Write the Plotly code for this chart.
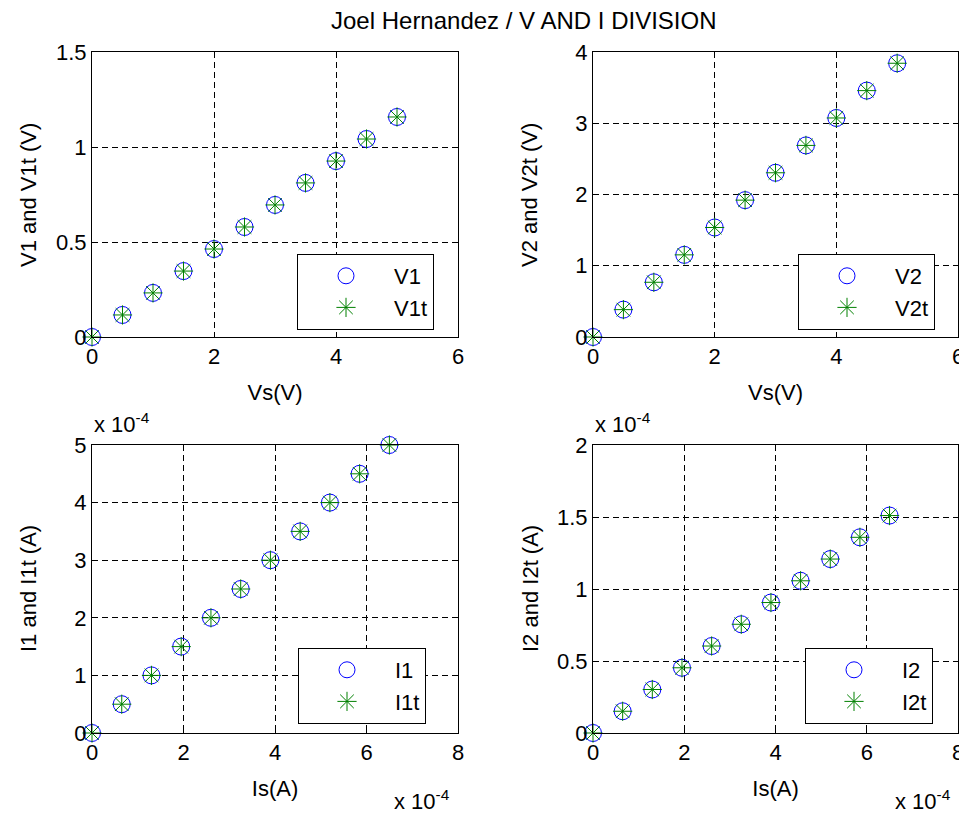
import plotly.graph_objects as go

# data
vs = [0, 0.5, 1, 1.5, 2, 2.5, 3, 3.5, 4, 4.5, 5]
v1 = [0, 0.116, 0.232, 0.347, 0.463, 0.579, 0.695, 0.811, 0.926, 1.042, 1.158]
v1t = [0, 0.116, 0.232, 0.347, 0.463, 0.579, 0.695, 0.811, 0.926, 1.042, 1.158]
v2 = [0, 0.384, 0.768, 1.153, 1.537, 1.921, 2.305, 2.689, 3.074, 3.458, 3.842]
v2t = [0, 0.384, 0.768, 1.153, 1.537, 1.921, 2.305, 2.689, 3.074, 3.458, 3.842]

# currents in units of 1e-4 A
is_e4 = [0, 0.65, 1.3, 1.95, 2.6, 3.25, 3.9, 4.55, 5.2, 5.85, 6.5]
i1_e4 = [0, 0.5, 1.0, 1.5, 2.0, 2.5, 3.0, 3.5, 4.0, 4.5, 5.0]
i1t_e4 = [0, 0.5, 1.0, 1.5, 2.0, 2.5, 3.0, 3.5, 4.0, 4.5, 5.0]
i2_e4 = [0, 0.151, 0.302, 0.453, 0.604, 0.755, 0.906, 1.057, 1.208, 1.359, 1.51]
i2t_e4 = [0, 0.151, 0.302, 0.453, 0.604, 0.755, 0.906, 1.057, 1.208, 1.359, 1.51]

# page body has an 8px margin, so the figure is a bit smaller than the window
OFF = 8
W, H = 967 - OFF, 816 - OFF
FONT = "Liberation Sans, Arial, sans-serif"
FS = 22


def px(x):
    return (x - OFF) / W


def py(y):
    return (816 - y) / H


fig = go.Figure()

panels = [
    # x, y measured, y theory, names, axis suffix, legend id
    (vs, v1, v1t, "V1", "V1t", "", "legend"),
    (vs, v2, v2t, "V2", "V2t", "2", "legend2"),
    (is_e4, i1_e4, i1t_e4, "I1", "I1t", "3", "legend3"),
    (is_e4, i2_e4, i2t_e4, "I2", "I2t", "4", "legend4"),
]

for x, y, yt, n1, n2, ax, lg in panels:
    fig.add_trace(go.Scatter(x=x, y=y, mode="markers", name=n1, legendgroup=n1,
                             xaxis="x" + ax, yaxis="y" + ax, legend=lg, cliponaxis=False,
                             marker=dict(symbol="circle-open", size=17, color="blue",
                                         line=dict(width=1, color="blue"))))
    fig.add_trace(go.Scatter(x=x, y=yt, mode="markers", name=n2, legendgroup=n2,
                             xaxis="x" + ax, yaxis="y" + ax, legend=lg, cliponaxis=False,
                             marker=dict(symbol="asterisk-open", size=16, color="#008000",
                                         line=dict(width=1, color="#008000"))))

xl, xr = [px(92), px(458)], [px(593), px(958)]
yt_dom = [py(337), py(52)]
yb_dom = [py(733), py(445)]


def axis(domain, rng, dtick, title, anchor):
    return dict(domain=domain, range=rng, dtick=dtick, anchor=anchor, automargin=False,
                showline=True, mirror="ticks", linecolor="black", linewidth=1,
                ticks="inside", ticklen=5, tickcolor="black",
                showgrid=True, gridcolor="black", gridwidth=1, griddash="6px,4px",
                zeroline=False, tickfont=dict(size=FS, color="black"),
                title=dict(text=title, font=dict(size=FS, color="black"), standoff=16))


def legend(x, y):
    return dict(x=x, y=y, xanchor="left", yanchor="top", bgcolor="white",
                bordercolor="black", borderwidth=1, font=dict(size=FS, color="black"),
                tracegroupgap=0, itemwidth=86)


fig.update_layout(
    width=W, height=H, margin=dict(l=0, r=0, t=0, b=0),
    plot_bgcolor="white", paper_bgcolor="white",
    font=dict(family=FONT, color="black"),
    xaxis=axis(xl, [0, 6], 2, "Vs(V)", "y"),
    yaxis=axis(yt_dom, [0, 1.5], 0.5, None, "x"),
    xaxis2=axis(xr, [0, 6], 2, "Vs(V)", "y2"),
    yaxis2=axis(yt_dom, [0, 4], 1, None, "x2"),
    xaxis3=axis(xl, [0, 8], 2, "Is(A)", "y3"),
    yaxis3=axis(yb_dom, [0, 5], 1, None, "x3"),
    xaxis4=axis(xr, [0, 8], 2, "Is(A)", "y4"),
    yaxis4=axis(yb_dom, [0, 2], 0.5, None, "x4"),
    legend=legend(px(297), py(254)),
    legend2=legend(px(798), py(254)),
    legend3=legend(px(298), py(648)),
    legend4=legend(px(805), py(648)),
)

# y axis titles at fixed distance from the axes
ytitles = [("V1 and V1t (V)", 28, 195), ("V2 and V2t (V)", 529, 195),
           ("I1 and I1t (A)", 28, 589), ("I2 and I2t (A)", 530, 589)]
for txt, tx, ty in ytitles:
    fig.add_annotation(x=px(tx), y=py(ty), xref="paper", yref="paper", text=txt,
                       showarrow=False, textangle=-90, xanchor="center", yanchor="middle",
                       font=dict(size=FS, color="black", family=FONT))

ann = [
    (524, 20, "Joel Hernandez / V AND I DIVISION", 24, "center"),
    (92, 423, "x 10<sup>-4</sup>", FS, "left"),
    (593, 423, "x 10<sup>-4</sup>", FS, "left"),
    (392, 800, "x 10<sup>-4</sup>", FS, "left"),
    (893, 800, "x 10<sup>-4</sup>", FS, "left"),
]
for tx, ty, txt, size, xa in ann:
    fig.add_annotation(x=px(tx), y=py(ty), xref="paper", yref="paper", text=txt,
                       showarrow=False, xanchor=xa, yanchor="middle",
                       font=dict(size=size, color="black", family=FONT))

fig.write_html("out.html")
